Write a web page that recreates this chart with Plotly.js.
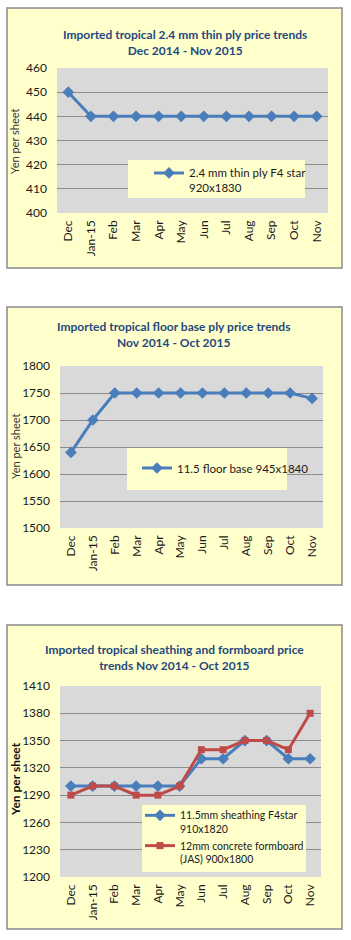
<!DOCTYPE html>
<html>
<head>
<meta charset="utf-8">
<script src="https://cdn.plot.ly/plotly-3.0.1.min.js"></script>
<style>html,body{margin:0;padding:0;background:#fff;}#chart{width:351px;height:940px;}</style>
</head>
<body>
<div id="chart"></div>
<script>
// ---- data ----
const months = ["Dec","Jan-15","Feb","Mar","Apr","May","Jun","Jul","Aug","Sep","Oct","Nov"];
const thinPly = [450,440,440,440,440,440,440,440,440,440,440,440];
const floorBase = [1640,1700,1750,1750,1750,1750,1750,1750,1750,1750,1750,1740];
const sheathing = [1300,1300,1300,1300,1300,1300,1330,1330,1350,1350,1330,1330];
const formboard = [1290,1300,1300,1290,1290,1300,1340,1340,1350,1350,1340,1380];

const title1 = "Imported tropical 2.4 mm thin ply price trends<br>Dec 2014 - Nov 2015";
const title2 = "Imported tropical floor base ply price trends<br>Nov 2014 - Oct 2015";
const title3 = "Imported tropical sheathing and formboard price<br>trends Nov 2014 - Oct 2015";
const name1 = "2.4 mm thin ply F4 star<br>920x1830";
const name2 = "11.5 floor base 945x1840";
const name3a = "11.5mm sheathing F4star<br>910x1820";
const name3b = "12mm concrete formboard<br>(JAS) 900x1800";
const yTitle = "Yen per sheet";

// ---- layout helpers ----
const W = 351, H = 940;
const px = x => x / W;
const py = y => 1 - y / H;

const FONT = "Liberation Sans Narrow, Lato, Arial, sans-serif";
const LFONT = "Lato, Arial, sans-serif";
const TFONT = "Lato, Open Sans, sans-serif";
const BLUE = "#4A7EBB", RED = "#BE4B48";
const YEL = "#FFFFCC", GRAY = "#D9D9D9", GRID = "#8C8C8C";

function xax(domain, anchor) {
  return {domain: domain, anchor: anchor, type: "category", range: [-0.5, 11.5],
    tickangle: -90, showgrid: false, zeroline: false, showline: false, ticks: "",
    ticklabelstandoff: 4, tickfont: {family: FONT, size: 12, color: "#1a1a1a"}, fixedrange: true};
}
function yax(domain, anchor, range, dtick) {
  return {domain: domain, anchor: anchor, range: range, dtick: dtick, showgrid: true,
    gridcolor: GRID, gridwidth: 1, zeroline: false, showline: false, ticks: "",
    ticklabelstandoff: 9, tickfont: {family: FONT, size: 12, color: "#1a1a1a"}, fixedrange: true};
}

const traces = [
  {x: months, y: thinPly, name: name1, type: "scatter", mode: "lines+markers",
   line: {color: BLUE, width: 3}, marker: {symbol: "diamond", size: 9, color: BLUE},
   xaxis: "x", yaxis: "y", legend: "legend"},
  {x: months, y: floorBase, name: name2, type: "scatter", mode: "lines+markers",
   line: {color: BLUE, width: 3}, marker: {symbol: "diamond", size: 9, color: BLUE},
   xaxis: "x2", yaxis: "y2", legend: "legend2"},
  {x: months, y: sheathing, name: name3a, type: "scatter", mode: "lines+markers",
   line: {color: BLUE, width: 3}, marker: {symbol: "diamond", size: 9, color: BLUE},
   xaxis: "x3", yaxis: "y3", legend: "legend3"},
  {x: months, y: formboard, name: name3b, type: "scatter", mode: "lines+markers",
   line: {color: RED, width: 3}, marker: {symbol: "square", size: 7, color: RED},
   xaxis: "x3", yaxis: "y3", legend: "legend3"}
];

function box(x0, y0, x1, y1) {
  return {type: "rect", xref: "paper", yref: "paper", layer: "below",
    x0: px(x0), x1: px(x1), y0: py(y1), y1: py(y0),
    fillcolor: YEL, line: {color: "#8a8a8a", width: 1.5}};
}
function plotbg(xr, yr) {
  return {type: "rect", xref: xr + " domain", yref: yr + " domain", layer: "below",
    x0: 0, x1: 1, y0: 0, y1: 1, fillcolor: GRAY, line: {width: 0}};
}
function lbox(x0, y0, x1, y1) {
  return {type: "rect", xref: "paper", yref: "paper", layer: "above",
    x0: px(x0), x1: px(x1), y0: py(y1), y1: py(y0),
    fillcolor: YEL, line: {width: 0}};
}
function ttl(text, cx, cy) {
  return {text: "<b>" + text + "</b>", x: px(cx), y: py(cy), xref: "paper", yref: "paper",
    xanchor: "center", yanchor: "middle", showarrow: false,
    font: {family: TFONT, size: 12, color: "#1F497D"}};
}
function ytl(text, cx, cy, bold) {
  return {text: bold ? "<b>" + text + "</b>" : text, x: px(cx), y: py(cy), xref: "paper", yref: "paper",
    xanchor: "center", yanchor: "middle", showarrow: false, textangle: -90,
    font: {family: FONT, size: bold ? 12 : 11, color: bold ? "#111" : "#333"}};
}
function leg(x, y, fs) {
  return {x: px(x), y: py(y), xanchor: "left", yanchor: "top", bgcolor: "rgba(0,0,0,0)",
    borderwidth: 0, valign: "top", tracegroupgap: 0, itemwidth: 30,
    font: {family: LFONT, size: fs, color: "#1a1a1a"}};
}

const layout = {
  width: W, height: H, autosize: false,
  margin: {l: 0, r: 0, t: 0, b: 0},
  paper_bgcolor: "#ffffff", plot_bgcolor: GRAY,
  showlegend: true,
  xaxis: xax([px(57), px(328)], "y"),
  yaxis: yax([py(213), py(68)], "x", [400, 460], 10),
  xaxis2: xax([px(60), px(323)], "y2"),
  yaxis2: yax([py(528), py(366)], "x2", [1500, 1800], 50),
  xaxis3: xax([px(60), px(321)], "y3"),
  yaxis3: yax([py(877), py(686)], "x3", [1200, 1410], 30),
  legend: leg(149, 159, 11.5),
  legend2: leg(137, 454, 11.5),
  legend3: leg(140, 802, 10.5),
  shapes: [
    box(7, 8, 342, 268),
    box(7, 307, 342, 585),
    box(7, 625, 342, 929),
    plotbg("x", "y"),
    plotbg("x2", "y2"),
    plotbg("x3", "y3"),
    lbox(128, 160, 305, 198),
    lbox(127, 448, 287, 490),
    lbox(142, 805, 306, 872)
  ],
  annotations: [
    ttl(title1, 185, 42),
    ttl(title2, 173, 334),
    ttl(title3, 174, 657),
    ytl(yTitle, 15, 142, false),
    ytl(yTitle, 15, 447, false),
    ytl(yTitle, 15, 779, true)
  ]
};

Plotly.newPlot("chart", traces, layout, {staticPlot: true, displayModeBar: false});
</script>
</body>
</html>
